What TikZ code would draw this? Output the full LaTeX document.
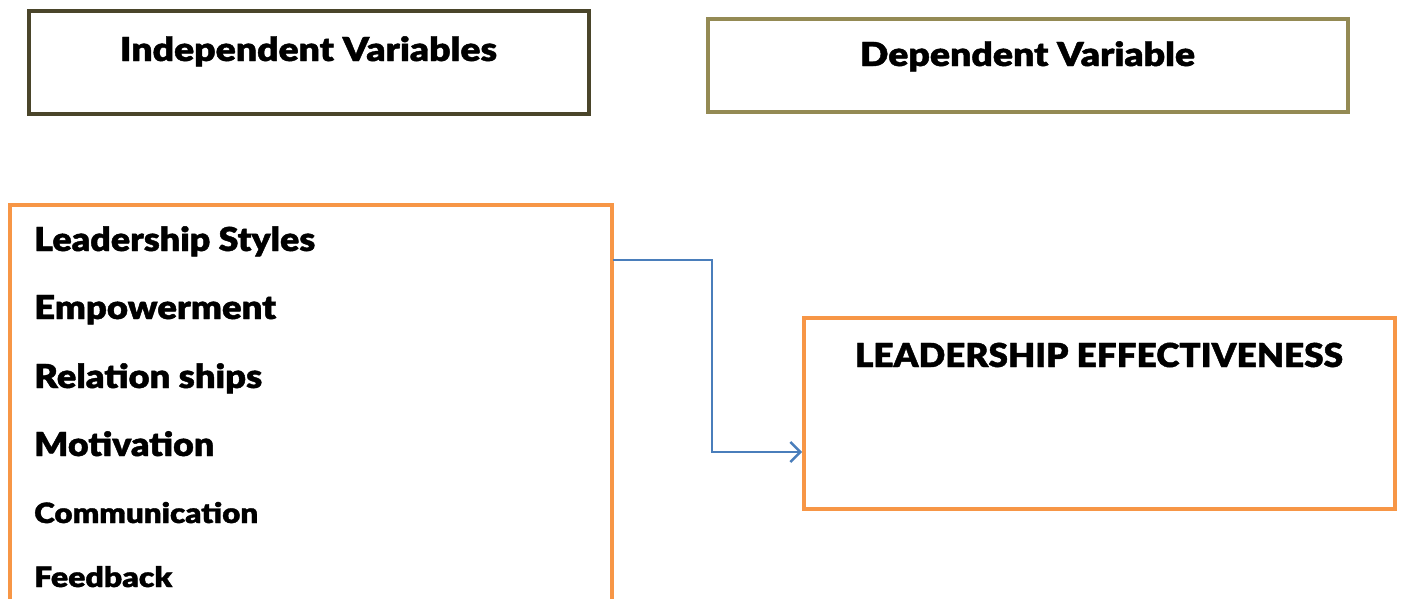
\documentclass[tikz,border=0pt]{standalone}
\usepackage{fontspec}
\usepackage{graphicx}
\setmainfont{Lato Black}[AutoFakeBold=1.2]
\usetikzlibrary{arrows.meta}
\definecolor{darkolive}{HTML}{4A452A}
\definecolor{tanolive}{HTML}{948A54}
\definecolor{accorange}{HTML}{F79646}
\definecolor{connblue}{HTML}{4A7EBB}
\newcommand{\fitw}[2]{\resizebox{#1}{\height}{\bfseries #2}}
\tikzset{
  box/.style={draw, line width=4.5pt, rectangle, inner sep=0pt, fill=white},
  big/.style={inner sep=0pt, font=\fontsize{33}{36}\selectfont},
  small/.style={inner sep=0pt, font=\fontsize{28}{32}\selectfont},
  conn/.style={draw=connblue, line width=2.4pt, -{Straight Barb[length=10pt,width=20pt,line width=2.4pt]}}
}
\begin{document}
\begin{tikzpicture}[x=1pt,y=-1pt]
\useasboundingbox (0,0) rectangle (1403,598);
\clip (0,0) rectangle (1403,598);
\fill[white] (0,0) rectangle (1403,598);
% boxes
\node[box, draw=darkolive, minimum width=560pt, minimum height=103pt] (ind) at (309,62.5) {};
\node[box, draw=tanolive, minimum width=640pt, minimum height=93pt] (dep) at (1028,65.5) {};
\node[box, draw=accorange, minimum width=602pt, minimum height=415pt] (lbox) at (311,412.5) {};
\node[box, draw=accorange, minimum width=591pt, minimum height=191pt] (rbox) at (1099.5,413.5) {};
% titles
\node[big, anchor=base] (tind) at (308.5,61) {\fitw{377pt}{Independent Variables}};
\node[big, anchor=base] (tdep) at (1027.5,66) {\fitw{335pt}{Dependent Variable}};
\node[big, anchor=base] (teff) at (1099,367) {\fitw{488pt}{LEADERSHIP EFFECTIVENESS}};
% list
\node[big, anchor=base west] (l1) at (34,251) {\fitw{281pt}{Leadership Styles}};
\node[big, anchor=base west] (l2) at (34,319) {\fitw{242pt}{Empowerment}};
\node[big, anchor=base west] (l3) at (34,388) {\fitw{228pt}{Relation ships}};
\node[big, anchor=base west] (l4) at (34,456) {\fitw{180pt}{Motivation}};
\node[small, anchor=base west] (l5) at (34,523) {\fitw{224pt}{Communication}};
\node[small, anchor=base west] (l6) at (34,587) {\fitw{138pt}{Feedback}};
% connector
\coordinate (a1) at (613,260);
\coordinate (a2) at (802,452);
\draw[conn] (a1) -- (712,260) |- (a2);
\end{tikzpicture}
\end{document}
